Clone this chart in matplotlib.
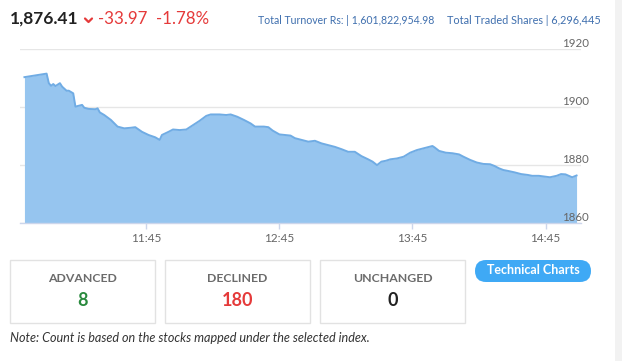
import matplotlib
matplotlib.use("Agg")
import matplotlib.pyplot as plt
from matplotlib.patches import Rectangle, FancyBboxPatch

plt.rcParams['font.family'] = ['Lato', 'DejaVu Sans']

# index readings through the day (HH:MM, value)
times = ["10:50", "11:00", "11:01", "11:02", "11:03", "11:04", "11:06", "11:07", "11:09", "11:10",
         "11:12", "11:13", "11:16", "11:17", "11:19", "11:22", "11:23", "11:24", "11:26", "11:29",
         "11:32", "11:35", "11:38", "11:40", "11:43", "11:46", "11:49", "11:51", "11:52", "11:55",
         "11:57", "12:00", "12:03", "12:06", "12:09", "12:12", "12:14", "12:18", "12:21", "12:23",
         "12:26", "12:29", "12:32", "12:34", "12:38", "12:40", "12:42", "12:45", "12:50", "12:52",
         "12:55", "12:58", "13:01", "13:04", "13:07", "13:10", "13:13", "13:16", "13:19", "13:22",
         "13:25", "13:27", "13:29", "13:31", "13:33", "13:35", "13:38", "13:41", "13:44", "13:47",
         "13:50", "13:54", "13:55", "13:57", "14:00", "14:03", "14:06", "14:08", "14:11", "14:14",
         "14:17", "14:20", "14:22", "14:24", "14:26", "14:28", "14:31", "14:34", "14:37", "14:39",
         "14:42", "14:45", "14:47", "14:50", "14:52", "14:54", "14:57", "14:59"]
values = [1910.38, 1911.6, 1908.3, 1907.4, 1908.0, 1907.3, 1908.3, 1907.1, 1905.7, 1905.7,
          1904.8, 1900.2, 1900.8, 1899.8, 1899.4, 1899.3, 1899.6, 1898.2, 1897.3, 1895.6,
          1893.3, 1892.7, 1892.9, 1893.1, 1891.5, 1890.4, 1889.6, 1888.7, 1890.4, 1891.5,
          1892.3, 1892.1, 1892.3, 1893.8, 1895.3, 1897.0, 1897.5, 1897.5, 1897.3, 1897.5,
          1896.7, 1895.6, 1894.4, 1893.3, 1893.3, 1893.1, 1891.9, 1890.6, 1890.2, 1889.3,
          1888.7, 1888.1, 1888.4, 1887.5, 1886.9, 1886.3, 1885.5, 1884.6, 1884.6, 1883.1,
          1882.0, 1881.2, 1880.0, 1881.2, 1881.5, 1882.0, 1882.3, 1882.9, 1884.3, 1885.2,
          1885.8, 1886.6, 1886.1, 1884.9, 1884.3, 1884.1, 1883.7, 1882.9, 1881.8, 1880.9,
          1880.4, 1880.3, 1879.7, 1878.9, 1878.3, 1878.0, 1877.5, 1876.9, 1876.6, 1876.3,
          1876.3, 1876.0, 1875.8, 1876.3, 1876.9, 1876.8, 1875.8, 1876.41]

xtick_labels = ["11:45", "12:45", "13:45", "14:45"]
yticks = [1860, 1880, 1900, 1920]

last_value = "1,876.41"
change = "-33.97"
change_pct = "-1.78%"
turnover = "Total Turnover Rs: | 1,601,822,954.98"
traded = "Total Traded Shares | 6,296,445"

box_labels = ["ADVANCED", "DECLINED", "UNCHANGED"]
box_counts = [8, 180, 0]
box_colors = ["#2a8a3e", "#e53a3a", "#222222"]

RED = "#e53a3a"


def mins(t):
    h, m = t.split(":")
    return int(h) * 60 + int(m)


W, H = 622, 361
x = [mins(t) for t in times]

fig = plt.figure(figsize=(6.22, 3.61), dpi=100)
fig.patch.set_facecolor("white")

# overlay in pixel units for the page furniture
bg = fig.add_axes([0, 0, 1, 1])
bg.set_xlim(0, W)
bg.set_ylim(H, 0)
bg.axis("off")

ax = fig.add_axes([20 / W, 1 - 223 / H, 561 / W, (223 - 49.3) / H])
ax.fill_between(x, values, 1860, color="#96c5ef", lw=0)
ax.plot(x, values, color="#70ace4", lw=1.4)
ax.set_xlim(mins("10:48"), mins("15:01"))
ax.set_ylim(1860, 1920)

for s in ["top", "left", "right"]:
    ax.spines[s].set_visible(False)
ax.spines["bottom"].set_color("#ccd6eb")
ax.spines["bottom"].set_linewidth(1)

ax.set_yticks(yticks)
ax.yaxis.grid(True, color="#e6e6e6", lw=1)
ax.set_axisbelow(True)
ax.tick_params(axis="y", length=0, labelleft=False)
for v in yticks:
    ax.text(1.0143, v, str(v), transform=ax.get_yaxis_transform(), ha="right", va="bottom",
            fontsize=8.3, color="#666666")

ax.set_xticks([mins(t) for t in xtick_labels])
ax.set_xticklabels(xtick_labels)
ax.tick_params(axis="x", length=4.5, width=1, color="#ccd6eb", pad=2.5, labelsize=8.5,
               labelcolor="#666666")

# header
bg.text(10, 19, last_value, fontsize=12.5, fontweight="bold", color="#222222",
        va="center", ha="left")
bg.plot([85, 88.5, 92], [18.5, 22, 18.5], color=RED, lw=1.6, solid_capstyle="round")
bg.text(98, 19, change, fontsize=12.2, color=RED, va="center", ha="left")
bg.text(156, 19, change_pct, fontsize=12.2, color=RED, va="center", ha="left")
bg.text(258, 20, turnover, fontsize=7.6, color="#3f6fae", va="center", ha="left")
bg.text(447, 20, traded, fontsize=7.8, color="#3f6fae", va="center", ha="left")

# right gray strip
bg.add_patch(Rectangle((615, 0), W - 615, H, color="#f2f2f2", lw=0))

# count boxes
box_left = [10, 165, 320]
for i, lab in enumerate(box_labels):
    l = box_left[i]
    bg.add_patch(Rectangle((l, 260), 145, 63, fill=False, edgecolor="#e2e2e2", lw=1))
    bg.text(l + 72.5, 278.5, lab, fontsize=8.8, fontweight="bold", color="#6b6b6b",
            ha="center", va="center")
    bg.text(l + 72.5, 300.5, str(box_counts[i]), fontsize=13, fontweight="bold",
            color=box_colors[i], ha="center", va="center")

# button
bg.add_patch(FancyBboxPatch((486, 271), 94, 0, boxstyle="round,pad=11",
                            facecolor="#3fa9f5", edgecolor="none"))
bg.text(533, 270.5, "Technical Charts", fontsize=9, fontweight="bold", color="white",
        ha="center", va="center")

bg.text(10, 338, "Note: Count is based on the stocks mapped under the selected index.",
        fontsize=9.1, style="italic", color="#333333", ha="left", va="center")

fig.savefig("out.png", dpi=100)
